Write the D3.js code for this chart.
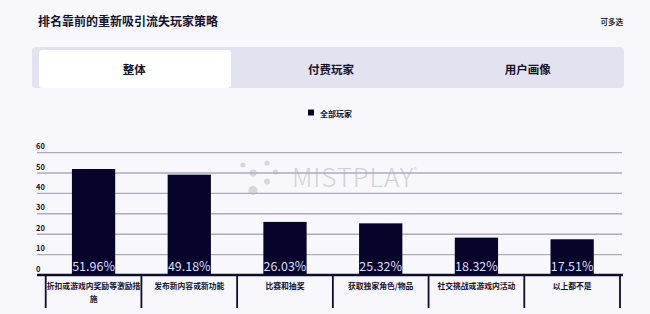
<!DOCTYPE html>
<html><head><meta charset="utf-8">
<script src="https://cdn.jsdelivr.net/npm/d3@7"></script>
<style>
html,body{margin:0;padding:0;background:#f8f8fc;}
svg{display:block;}
text{font-family:"Noto Sans CJK SC","Noto Sans",sans-serif;}
</style></head>
<body><svg id="c" width="650" height="314"></svg>
<script>
const title = "排名靠前的重新吸引流失玩家策略";
const note = "可多选";
const tabs = ["整体", "付费玩家", "用户画像"];
const seriesName = "全部玩家";
const categories = ["折扣或游戏内奖励等激励措施", "发布新内容或新功能", "比赛和抽奖", "获取独家角色/物品", "社交挑战或游戏内活动", "以上都不是"];
const values = [51.96, 49.18, 26.03, 25.32, 18.32, 17.51];
const yTicks = [0, 10, 20, 30, 40, 50, 60];

const svg = d3.select("#c");
const dark = "#07042c";

svg.append("rect").attr("width",650).attr("height",314).attr("fill","#f8f8fc");

// title
svg.append("text").attr("x",38).attr("y",26).attr("font-size",12).attr("font-weight",700)
  .attr("fill","#14122e").text(title);
svg.append("text").attr("x",623).attr("y",25).attr("text-anchor","end").attr("font-size",7.5)
  .attr("font-weight",700).attr("fill","#2a2840").text(note);

// tabs
const tabX = d3.scaleBand().domain(tabs).range([37,627]);
svg.append("rect").attr("x",32).attr("y",47).attr("width",592).attr("height",41).attr("rx",4)
  .attr("fill","#e3e2f1");
svg.append("rect").attr("x",39).attr("y",50).attr("width",192).attr("height",38).attr("rx",4)
  .attr("fill","#ffffff");
svg.selectAll(".tab").data(tabs).join("text")
  .attr("x",d=>tabX(d)+tabX.bandwidth()/2-1).attr("y",74).attr("text-anchor","middle")
  .attr("font-size",11.5).attr("font-weight",700).attr("fill","#14122e").text(d=>d);

// legend
svg.append("rect").attr("x",308).attr("y",109.5).attr("width",6).attr("height",6).attr("fill",dark);
svg.append("text").attr("x",320).attr("y",117).attr("font-size",8).attr("font-weight",700)
  .attr("fill","#14122e").text(seriesName);

// scales
const y = d3.scaleLinear().domain([0,60]).range([275,152.6]);
const x = d3.scaleBand().domain(categories).range([45.7,620]).paddingInner(0).paddingOuter(0);

// watermark
const wm = svg.append("g").attr("fill","#d6d6dc");
[[243,165,2.6],[267,163,2.6],[253,173,3.6],[275.5,172,2.6],[267,181.5,3],[253,190.5,4.6]]
  .forEach(d=>wm.append("circle").attr("cx",d[0]).attr("cy",d[1]).attr("r",d[2]));
wm.append("text").attr("x",292).attr("y",187).attr("font-family","Lato, 'Open Sans', sans-serif")
  .attr("font-weight",300).attr("font-size",26).attr("textLength",121).attr("fill","#d2d2da").text("MISTPLAY");
wm.append("text").attr("x",414).attr("y",172).attr("font-family","DejaVu Sans, sans-serif")
  .attr("font-size",6).attr("fill","#d2d2da").text("®");

// gridlines
svg.selectAll(".grid").data(yTicks.filter(t=>t>0)).join("line")
  .attr("x1",37).attr("x2",622).attr("y1",d=>y(d)).attr("y2",d=>y(d))
  .attr("stroke","#acabbd").attr("stroke-width",1.4);

// y labels
svg.selectAll(".yl").data(yTicks).join("text")
  .attr("x",36).attr("y",d=>y(d)-3.5).attr("font-size",7.5).attr("font-weight",700)
  .attr("font-family","'DejaVu Sans', sans-serif").attr("fill","#14122e").text(d=>d);

// bars
const bw = x.bandwidth()*0.452;
svg.selectAll(".bar").data(values).join("rect")
  .attr("x",(d,i)=>x(categories[i])+x.bandwidth()/2-bw/2).attr("width",bw)
  .attr("y",d=>y(d)).attr("height",d=>y(0)-y(d)).attr("fill",dark);

// value labels
svg.selectAll(".vl").data(values).join("text")
  .attr("x",(d,i)=>x(categories[i])+x.bandwidth()/2).attr("y",y(0)-4)
  .attr("text-anchor","middle").attr("font-size",12.5)
  .attr("font-family","'Liberation Sans', Arial, sans-serif").attr("fill","#dcdcff")
  .text(d=>d.toFixed(2)+"%");

// axis line
svg.append("line").attr("x1",37).attr("x2",623).attr("y1",y(0)).attr("y2",y(0))
  .attr("stroke","#0d0b2e").attr("stroke-width",2.4);

// dividers
const bounds = categories.map(c=>x(c)).concat([x.range()[1]]);
svg.selectAll(".dv").data(bounds).join("line")
  .attr("x1",d=>d).attr("x2",d=>d).attr("y1",y(0)).attr("y2",308)
  .attr("stroke","#0d0b2e").attr("stroke-width",1.8);

// category labels with wrapping
const maxW = x.bandwidth()+1;
const fs = 7.8;
categories.forEach(c=>{
  const cx = x(c)+x.bandwidth()/2;
  const t = svg.append("text").attr("x",cx).attr("y",289).attr("text-anchor","middle")
    .attr("font-size",fs).attr("font-weight",700).attr("fill","#14122e");
  const chars = Array.from(c);
  let lines=[], cur="";
  chars.forEach(ch=>{
    if ((cur+ch).length*fs > maxW) { lines.push(cur); cur=ch; } else cur+=ch;
  });
  lines.push(cur);
  lines.forEach((l,i)=>t.append("tspan").attr("x",cx).attr("dy",i===0?0:12.5).text(l));
});
</script></body></html>
